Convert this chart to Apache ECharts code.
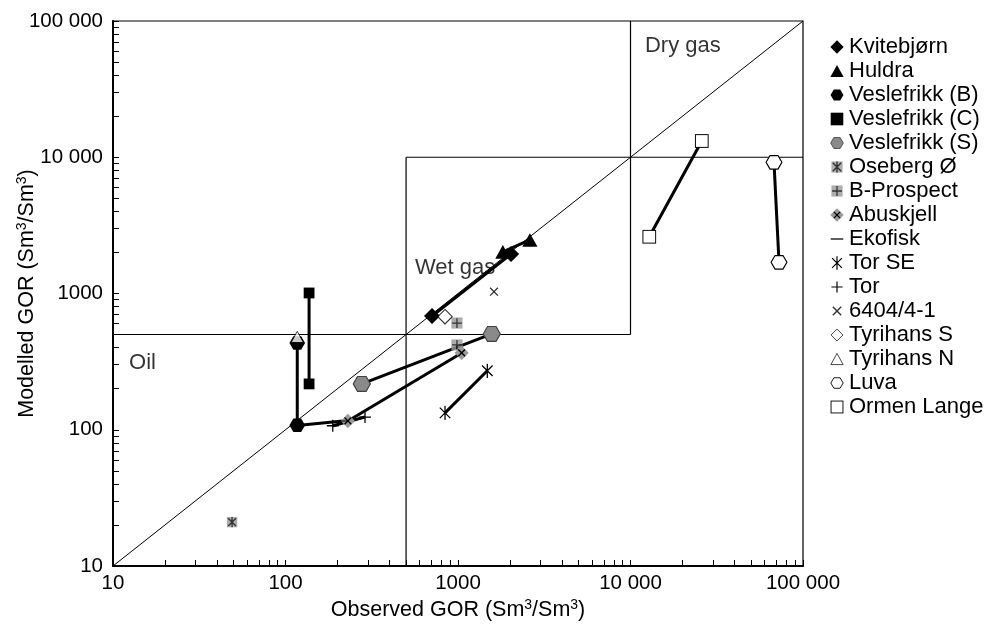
<!DOCTYPE html>
<html>
<head>
<meta charset="utf-8">
<script src="https://cdn.jsdelivr.net/npm/echarts@6/dist/echarts.min.js"></script>
<style>
html, body { margin: 0; padding: 0; background: #fff; }
#main { width: 1000px; height: 629px; }
</style>
</head>
<body>
<div id="main"></div>
<script>
// observed / modelled GOR, [observed, modelled] pairs per field
var kvitebjorn  = [[707, 684], [2030, 1950]];
var huldra      = [[1820, 2020], [2610, 2470]];
var veslefrikkB = [[117, 433], [117, 108]];
var veslefrikkC = [[137, 1009], [137, 217]];
var veslefrikkS = [[277, 217], [1570, 505]];
var osebergO    = [[49, 21]];
var bProspect   = [[986, 607], [986, 419]];
var abuskjell   = [[230, 116], [1050, 366]];
var ekofisk     = [[121, 108], [215, 116]];
var torSE       = [[841, 133], [1479, 271]];
var tor         = [[188, 107], [289, 124]];
var well6404    = [[1617, 1031]];
var tyrihansS   = [[841, 676]];
var tyrihansN   = [[117, 480]];
var luva        = [[67900, 9180], [72600, 1694]];
var ormenLange  = [[25900, 13160], [12850, 2610]];

// fluid type boundaries and the 1:1 line
var oilTop     = [[10, 500], [10000, 500]];
var wetLeft    = [[500, 10], [500, 10000]];
var wetTop     = [[500, 10000], [100000, 10000]];
var dryLeft    = [[10000, 500], [10000, 100000]];
var diagonal   = [[10, 10], [100000, 100000]];

var regionNames = ['Oil', 'Wet gas', 'Dry gas'];
var regionAt    = [[12.4, 309], [563, 1538], [12130, 65560]];

var axisMin = 10, axisMax = 100000;

var font = 'Liberation Sans, Arial, sans-serif';

function svgSym(body) {
    return 'image://data:image/svg+xml;charset=utf-8,' + encodeURIComponent(
        '<svg xmlns="http://www.w3.org/2000/svg" width="40" height="40" viewBox="0 0 20 20">' + body + '</svg>');
}

var sym = {
    diamondF: svgSym('<path d="M10 0.5L19.5 10L10 19.5L0.5 10Z" fill="#000"/>'),
    triF: svgSym('<path d="M10 1.5L19.5 18.5H0.5Z" fill="#000"/>'),
    hexF: svgSym('<path d="M0.8 10L5.4 2H14.6L19.2 10L14.6 18H5.4Z" fill="#000"/>'),
    sqF: svgSym('<rect x="1" y="1" width="18" height="18" fill="#000"/>'),
    hexG: svgSym('<path d="M1 10L5.5 2.2H14.5L19 10L14.5 17.8H5.5Z" fill="#8a8a8a" stroke="#404040" stroke-width="1.2"/>'),
    oseberg: svgSym('<rect x="2" y="2" width="16" height="16" fill="#999"/><path d="M4 4L16 16M16 4L4 16M10 2V18" stroke="#000" stroke-width="2"/>'),
    bprosp: svgSym('<rect x="2" y="2" width="16" height="16" fill="#999"/><path d="M10 3V17M3 10H17" stroke="#000" stroke-width="1.8"/>'),
    abusk: svgSym('<path d="M10 0.5L19.5 10L10 19.5L0.5 10Z" fill="#999"/><path d="M5.5 5.5L14.5 14.5M14.5 5.5L5.5 14.5" stroke="#000" stroke-width="1.8"/>'),
    dash: svgSym('<path d="M1 10H19" stroke="#000" stroke-width="1.8"/>'),
    star: svgSym('<path d="M3 3L17 17M17 3L3 17M10 0.5V19.5" stroke="#000" stroke-width="1.7"/>'),
    plus: svgSym('<path d="M10 2V18M2 10H18" stroke="#000" stroke-width="1.7"/>'),
    cross: svgSym('<path d="M4 4L16 16M16 4L4 16" stroke="#000" stroke-width="2"/>'),
    diamondO: svgSym('<path d="M10 1.5L18.5 10L10 18.5L1.5 10Z" fill="#fff" stroke="#000" stroke-width="1.3"/>'),
    triO: svgSym('<path d="M10 2L18.8 18H1.2Z" fill="#fff" stroke="#000" stroke-width="1.3"/>'),
    hexO: svgSym('<path d="M1.2 10L5.6 2.5H14.4L18.8 10L14.4 17.5H5.6Z" fill="#fff" stroke="#000" stroke-width="1.3"/>'),
    sqO: svgSym('<rect x="1.5" y="1.5" width="17" height="17" fill="#fff" stroke="#000" stroke-width="1.3"/>')
};

var fields = [
    { name: 'Kvitebjørn', data: kvitebjorn, sym: 'diamondF', size: 17, line: true },
    { name: 'Huldra', data: huldra, sym: 'triF', size: 16, line: true },
    { name: 'Veslefrikk (B)', data: veslefrikkB, sym: 'hexF', size: 17, line: true },
    { name: 'Veslefrikk (C)', data: veslefrikkC, sym: 'sqF', size: 12, line: true },
    { name: 'Veslefrikk (S)', data: veslefrikkS, sym: 'hexG', size: 19, line: true },
    { name: 'Oseberg Ø', data: osebergO, sym: 'oseberg', size: 13, line: false },
    { name: 'B-Prospect', data: bProspect, sym: 'bprosp', size: 14, line: false },
    { name: 'Abuskjell', data: abuskjell, sym: 'abusk', size: 15, line: true },
    { name: 'Ekofisk', data: ekofisk, sym: 'dash', size: 13, line: true },
    { name: 'Tor SE', data: torSE, sym: 'star', size: 15, line: true },
    { name: 'Tor', data: tor, sym: 'plus', size: 15, line: true },
    { name: '6404/4-1', data: well6404, sym: 'cross', size: 13, line: false },
    { name: 'Tyrihans S', data: tyrihansS, sym: 'diamondO', size: 17, line: false },
    { name: 'Tyrihans N', data: tyrihansN, sym: 'triO', size: 14, line: false },
    { name: 'Luva', data: luva, sym: 'hexO', size: 18, line: true },
    { name: 'Ormen Lange', data: ormenLange, sym: 'sqO', size: 15, line: true }
];

// tick positions 10,20,...,90,100,200,...
var tickValues = [];
for (var d = axisMin; d < axisMax; d *= 10) {
    for (var k = 1; k < 10; k++) tickValues.push(d * k);
}
tickValues.push(axisMax);

function fmt(v) {
    var s = String(Math.round(v));
    if (v >= 10000) s = s.replace(/\B(?=(\d{3})+(?!\d))/g, ' ');
    return s;
}

function boundary(data, width) {
    return {
        type: 'line', data: data, symbol: 'none', silent: true, z: 1,
        lineStyle: { color: '#000', width: width }
    };
}

var series = [
    boundary(oilTop, 1.2), boundary(wetLeft, 1.2), boundary(wetTop, 1.2),
    boundary(dryLeft, 1.2), boundary(diagonal, 1),
    {
        type: 'scatter', silent: true, symbolSize: 0, z: 2,
        data: regionAt.map(function (p, i) { return { value: p, name: regionNames[i] }; }),
        label: {
            show: true, position: 'right', distance: 0, formatter: '{b}',
            fontSize: 22, color: '#000', fontFamily: font
        }
    }
];

fields.forEach(function (f) {
    series.push({
        name: f.name,
        type: f.line ? 'line' : 'scatter',
        data: f.data,
        symbol: sym[f.sym],
        symbolSize: f.size,
        showSymbol: true,
        z: 3,
        itemStyle: { color: '#000' },
        lineStyle: { color: '#000', width: 3 }
    });
});

var axisCommon = {
    type: 'log', logBase: 10, min: axisMin, max: axisMax,
    nameLocation: 'middle',
    nameMoveOverlap: false,
    axisLine: { show: true, lineStyle: { color: '#000', width: 2 } },
    axisTick: { show: true, inside: true, length: 6, customValues: tickValues, lineStyle: { color: '#000', width: 1 } },
    axisLabel: { color: '#000', fontSize: 20.5, fontFamily: font, formatter: fmt },
    splitLine: { show: false },
    minorTick: { show: false },
    nameTextStyle: {
        color: '#000', fontSize: 21.5, fontFamily: font, lineHeight: 24,
        rich: { s: { fontSize: 14, lineHeight: 14, verticalAlign: 'top', fontFamily: font, color: '#000' } }
    }
};

var myChart = echarts.init(document.getElementById('main'), null, { renderer: 'canvas' });
myChart.setOption({
    animation: false,
    backgroundColor: '#fff',
    grid: {
        left: 113, right: 197, top: 21, bottom: 63, outerBoundsMode: 'none',
        show: true, borderColor: '#000', borderWidth: 1.2
    },
    xAxis: Object.assign({}, axisCommon, {
        name: 'Observed GOR (Sm{s|3}/Sm{s|3})', nameGap: 32,
        axisLabel: Object.assign({}, axisCommon.axisLabel, { margin: 7 })
    }),
    yAxis: Object.assign({}, axisCommon, {
        name: 'Modelled GOR (Sm{s|3}/Sm{s|3})', nameGap: 74,
        axisLabel: Object.assign({}, axisCommon.axisLabel, { margin: 10 })
    }),
    legend: {
        orient: 'vertical', left: 825, top: 30,
        itemWidth: 14, itemHeight: 14, itemGap: 0, selectedMode: false,
        textStyle: { color: '#000', fontSize: 22, fontFamily: font, lineHeight: 24 },
        data: fields.map(function (f) { return { name: f.name, icon: sym[f.sym] }; })
    },
    series: series
});
</script>
</body>
</html>
